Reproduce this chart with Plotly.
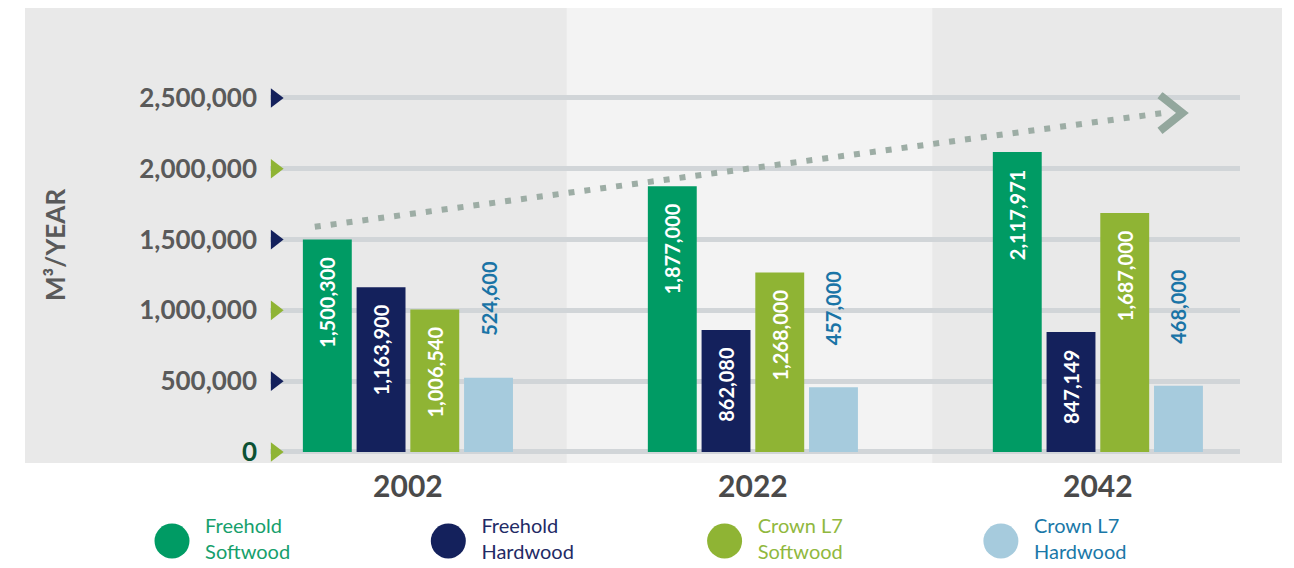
import plotly.graph_objects as go

# data
years = ["2002", "2022", "2042"]
freehold_softwood = [1500300, 1877000, 2117971]
freehold_hardwood = [1163900, 862080, 847149]
crown_softwood = [1006540, 1268000, 1687000]
crown_hardwood = [524600, 457000, 468000]

series_names = ["Freehold<br>Softwood", "Freehold<br>Hardwood",
                "Crown L7<br>Softwood", "Crown L7<br>Hardwood"]
bar_colors = ["#009b64", "#14215c", "#8fb434", "#a6cbdd"]
text_colors = ["#16a06c", "#1f2b66", "#90b83e", "#1a78a8"]

y_ticks = [0, 500000, 1000000, 1500000, 2000000, 2500000]
tick_marker_colors = ["#8fb434", "#14215c", "#8fb434", "#14215c", "#8fb434", "#14215c"]

# dotted trend arrow
trend_x = [-0.27, 2.19]
trend_y = [1590000, 2394000]
chevron_x = [2.18, 2.245, 2.18]
chevron_y = [2520000, 2394000, 2268000]

# page has an 8px body margin, so the figure is 16px smaller and
# every pixel position is measured from (8, 8)
FW, FH = 1286, 560
FONT = "Lato"


def px(x):
    return (x - 8) / FW


def py(y):
    return 1 - (y - 8) / FH


NB = "\u00a0"

fig = go.Figure()

x_idx = list(range(len(years)))
all_series = [freehold_softwood, freehold_hardwood, crown_softwood, crown_hardwood]
for i, vals in enumerate(all_series):
    last = i == 3
    if last:
        labels = [NB * 8 + f"{v:,}" for v in vals]
    else:
        labels = [f"{v:,}" + NB * 3 for v in vals]
    fig.add_trace(go.Bar(
        x=x_idx, y=vals, name=series_names[i].replace("<br>", " "),
        marker=dict(color=bar_colors[i], line=dict(width=0)),
        text=labels,
        textposition="outside" if last else "inside",
        insidetextanchor="end",
        textangle=-90,
        constraintext="none",
        cliponaxis=False,
        textfont=dict(family=FONT, size=20, weight="bold",
                      color="#1a74a6" if last else "white"),
        showlegend=False, hoverinfo="skip",
    ))

# trend arrow
fig.add_trace(go.Scatter(
    x=trend_x, y=trend_y, mode="lines",
    line=dict(color="#9dada5", width=6, dash="6px,10px"),
    showlegend=False, hoverinfo="skip", cliponaxis=False,
))
fig.add_trace(go.Scatter(
    x=chevron_x, y=chevron_y, mode="lines",
    line=dict(color="#93a79d", width=8),
    showlegend=False, hoverinfo="skip", cliponaxis=False,
))

# triangle tick markers at the left end of each gridline
fig.add_trace(go.Scatter(
    x=[-0.385] * len(y_ticks), y=y_ticks, mode="markers",
    marker=dict(symbol="triangle-right", size=17, color=tick_marker_colors),
    showlegend=False, hoverinfo="skip", cliponaxis=False,
))

# custom legend
fig.add_trace(go.Scatter(
    x=list(range(4)), y=[0] * 4, mode="markers+text",
    marker=dict(size=35, color=bar_colors),
    text=["  " + s.replace("<br>", "<br>  ") for s in series_names],
    textposition="middle right",
    textfont=dict(family=FONT, size=20, color=text_colors),
    xaxis="x2", yaxis="y2", cliponaxis=False,
    showlegend=False, hoverinfo="skip",
))

# background panels
fig.add_shape(type="rect", xref="paper", yref="paper",
              x0=px(25), x1=px(1282), y0=py(463), y1=py(6),
              fillcolor="#e9e9e9", line_width=0, layer="below")
fig.add_shape(type="rect", xref="x", yref="paper",
              x0=0.46, x1=1.52, y0=py(463), y1=py(6),
              fillcolor="#f3f3f3", line_width=0, layer="below")

fig.add_annotation(
    text="M³/YEAR", textangle=-90, xref="paper", yref="paper",
    x=px(55), y=py(245), xanchor="center", yanchor="middle", showarrow=False,
    font=dict(family=FONT, size=26, weight="bold", color="#5a5a5a"),
)

tick_text = ["<span style='color:#0c5133'>0</span>"] + [f"{v:,}" for v in y_ticks[1:]]

# x axis: 345 px per category, category 0 centred at x=408
x_left = -0.365 - 12 / 345

fig.update_layout(
    width=FW, height=FH,
    margin=dict(l=0, r=0, t=0, b=0),
    paper_bgcolor="white",
    plot_bgcolor="rgba(0,0,0,0)",
    barmode="group", bargap=0.377, bargroupgap=0.09,
    xaxis=dict(
        domain=[px(270), px(1240)], range=[x_left, 2.412],
        tickvals=x_idx, ticktext=years, automargin=False,
        showgrid=False, zeroline=False, showline=False,
        ticklabelstandoff=12,
        tickfont=dict(family=FONT, size=30, weight="bold", color="#4a4a4a"),
    ),
    yaxis=dict(
        domain=[py(454.1), py(92.3)], range=[-15000, 2540000],
        tickvals=y_ticks, ticktext=tick_text, automargin=False,
        showgrid=True, gridcolor="#d1d5d8", gridwidth=5,
        zeroline=True, zerolinecolor="#d1d5d8", zerolinewidth=5,
        showline=False, ticklabelstandoff=12,
        tickfont=dict(family=FONT, size=26, weight="bold", color="#5a5a5a"),
    ),
    xaxis2=dict(domain=[0, 1], range=[-164 / 276.3, (FW - 164) / 276.3],
                visible=False, anchor="y2", automargin=False),
    yaxis2=dict(domain=[0, 2 * py(541)], range=[-1, 1],
                visible=False, anchor="x2", automargin=False),
)

fig.write_html("out.html")
